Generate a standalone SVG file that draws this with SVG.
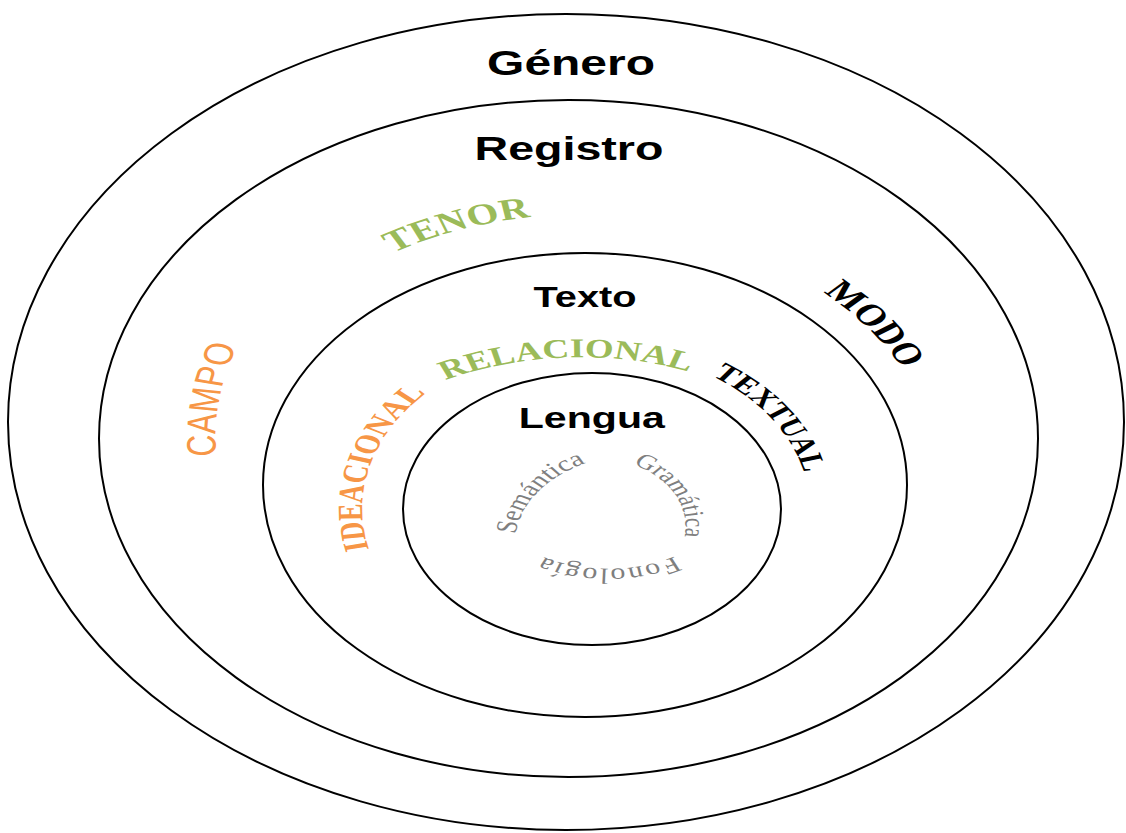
<svg xmlns="http://www.w3.org/2000/svg" xmlns:xlink="http://www.w3.org/1999/xlink" width="1126" height="833" viewBox="0 0 1126 833">
  <style>
    .ring { fill: none; stroke: #000; stroke-width: 2; }
    .title { font-family: "Liberation Sans", Arial, sans-serif; font-weight: bold; fill: #000; text-anchor: middle; }
    .arch { font-family: "Liberation Serif", "Times New Roman", serif; font-weight: bold; text-anchor: middle; }
    .sans { font-family: "Liberation Sans", Arial, sans-serif; font-weight: normal; }
    .inner { font-family: "Liberation Serif", "Times New Roman", serif; font-weight: normal; fill: #7f7f7f; text-anchor: middle; }
    .orange { fill: #f79646; }
    .green { fill: #9bbb59; }
    .black { fill: #000; }
  </style>
  <defs>
    <!-- arcs drawn in the horizontally compressed frame (x / 1.37) -->
    <path id="arcCampo" d="M372.8,709.6 A278,278 0 0 1 449.8,161.1"/>
    <path id="arcTenor" d="M164.1,553.3 A271,271 0 0 1 672.7,372.2"/>
    <path id="arcModo" d="M287.7,265 A260,260 0 0 1 600.9,677.6"/>
    <path id="arcIdea" d="M374.3,665.9 A167,167 0 0 1 460.4,344.5"/>
    <path id="arcRela" d="M201,578.1 A223,223 0 0 1 643.9,543.2"/>
    <path id="arcText" d="M353.8,369.1 A160,160 0 0 1 532.1,633.3"/>
    <path id="arcSem" d="M406.3,612.4 A90,90 0 0 1 511.7,467.4"/>
    <path id="arcGram" d="M403.7,462 A70,70 0 0 1 468.1,585.7"/>
    <path id="arcFono" d="M543.6,477.7 A100,100 0 0 1 344.4,477.7"/>
  </defs>

  <rect width="1126" height="833" fill="#fff"/>

  <g id="connectors"></g>

  <!-- concentric layers -->
  <g id="genero">
    <ellipse class="ring" cx="566" cy="422" rx="558" ry="408"/>
  </g>
  <g id="registro">
    <ellipse class="ring" cx="568.5" cy="438.5" rx="469.5" ry="338.5"/>
  </g>
  <g id="texto">
    <ellipse class="ring" cx="585" cy="485" rx="322" ry="232"/>
  </g>
  <g id="lengua">
    <ellipse class="ring" cx="592" cy="509" rx="189" ry="136"/>
  </g>

  <!-- all labels are stretched horizontally like the rings -->
  <g id="labels" transform="scale(1.37,1)">
    <text id="label-genero" class="title" x="416.8" y="75" font-size="35">Género</text>
    <text id="label-registro" class="title" x="415.3" y="160" font-size="34">Registro</text>
    <text id="label-texto" class="title" x="427" y="307" font-size="29">Texto</text>
    <text id="label-lengua" class="title" x="432" y="428" font-size="30">Lengua</text>

    <g id="registro-vars">
      <text class="arch sans orange" font-size="30" letter-spacing="0.5"><textPath xlink:href="#arcCampo" href="#arcCampo" startOffset="50%">CAMPO</textPath></text>
      <text class="arch green" font-size="30" letter-spacing="0.3"><textPath xlink:href="#arcTenor" href="#arcTenor" startOffset="50%">TENOR</textPath></text>
      <text class="arch black" font-size="30"><textPath xlink:href="#arcModo" href="#arcModo" startOffset="50%">MODO</textPath></text>
    </g>

    <g id="metafunciones">
      <text class="arch orange" font-size="26"><textPath xlink:href="#arcIdea" href="#arcIdea" startOffset="50%">IDEACIONAL</textPath></text>
      <text class="arch green" font-size="27"><textPath xlink:href="#arcRela" href="#arcRela" startOffset="51%">RELACIONAL</textPath></text>
      <text class="arch black" font-size="25"><textPath xlink:href="#arcText" href="#arcText" startOffset="49.5%">TEXTUAL</textPath></text>
    </g>

    <g id="estratos">
      <text class="inner" font-size="22"><textPath xlink:href="#arcSem" href="#arcSem" startOffset="50%">Semántica</textPath></text>
      <text class="inner" font-size="21"><textPath xlink:href="#arcGram" href="#arcGram" startOffset="50%">Gramática</textPath></text>
      <text class="inner" font-size="22" letter-spacing="1.3"><textPath xlink:href="#arcFono" href="#arcFono" startOffset="50%">Fonología</textPath></text>
    </g>
  </g>
</svg>
